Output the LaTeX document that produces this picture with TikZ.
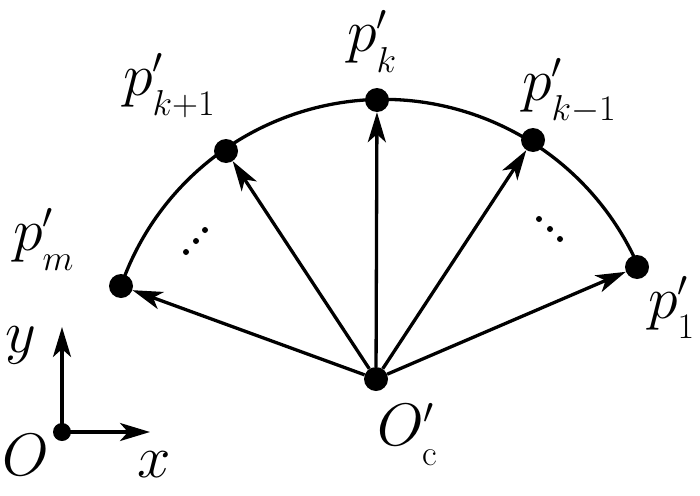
\RequirePackage{fix-cm}
\documentclass[tikz,border=0pt]{standalone}
\usetikzlibrary{arrows.meta}
\DeclareMathSizes{60}{60}{36}{28}
\newcommand\mainsize{\fontsize{60}{70}\selectfont}
\newcommand\lsub[1]{\raisebox{-6pt}{$\scriptstyle #1$}}
\begin{document}
\begin{tikzpicture}[x=1pt,y=-1pt,
  dotnode/.style={circle,fill=black,inner sep=0pt,minimum size=24pt},
  smalldot/.style={circle,fill=black,inner sep=0pt,minimum size=18pt},
  tinydot/.style={circle,fill=black,inner sep=0pt,minimum size=6pt},
  lbl/.style={inner sep=0pt,anchor=base west,font=\mainsize},
  curve/.style={line width=3.3pt},
  arr/.style={line width=3.3pt,-{Stealth[length=30pt,width=18pt,inset=8pt]}},
]
\useasboundingbox (0,0) rectangle (700,495);
% points
\node[dotnode] (Oc) at (376,379) {};
\node[dotnode] (Pk) at (377,100) {};
\node[dotnode] (Pk1) at (226,151) {};
\node[dotnode] (Pkm1) at (533,140) {};
\node[dotnode] (Pm) at (121,286) {};
\node[dotnode] (P1) at (637,267) {};
% arc
\draw[curve] (Pm.center) arc[start angle=-160.8, end angle=-23.4, radius=278];
% vectors
\draw[arr] (Oc) -- (Pk);
\draw[arr] (Oc) -- (Pk1);
\draw[arr] (Oc) -- (Pkm1);
\draw[arr] (Oc) -- (Pm);
\draw[arr] (Oc) -- (P1);
% ellipsis dots
\node[tinydot] (dl1) at (205,230) {};
\node[tinydot] (dl2) at (196,241) {};
\node[tinydot] (dl3) at (186,252) {};
\node[tinydot] (dr1) at (539,219) {};
\node[tinydot] (dr2) at (550,229) {};
\node[tinydot] (dr3) at (560,239) {};
% labels
\node[lbl] (Lk) at (347,52) {$p'_{\lsub{k}}$};
\node[lbl] (Lk1) at (123,95) {$p'_{\lsub{k+1}}$};
\node[lbl] (Lkm1) at (522,100) {$p'_{\lsub{k-1}}$};
\node[lbl] (Lm) at (13,250) {$p'_{\lsub{m}}$};
\node[lbl] (L1) at (648,318) {$p'_{\lsub{1}}$};
\node[lbl] (LOc) at (377,445) {$O'_{\lsub{\mathrm{c}}}$};
% axes
\node[smalldot] (O0) at (62,432) {};
\coordinate (Yt) at (62,327);
\coordinate (Xt) at (150,432);
\draw[arr] (O0.center) -- (Yt);
\draw[arr] (O0.center) -- (Xt);
\node[lbl] (LO) at (2,475) {$O$};
\node[lbl] (Lx) at (137,477) {$x$};
\node[lbl] (Ly) at (5,352) {$y$};
\end{tikzpicture}
\end{document}
